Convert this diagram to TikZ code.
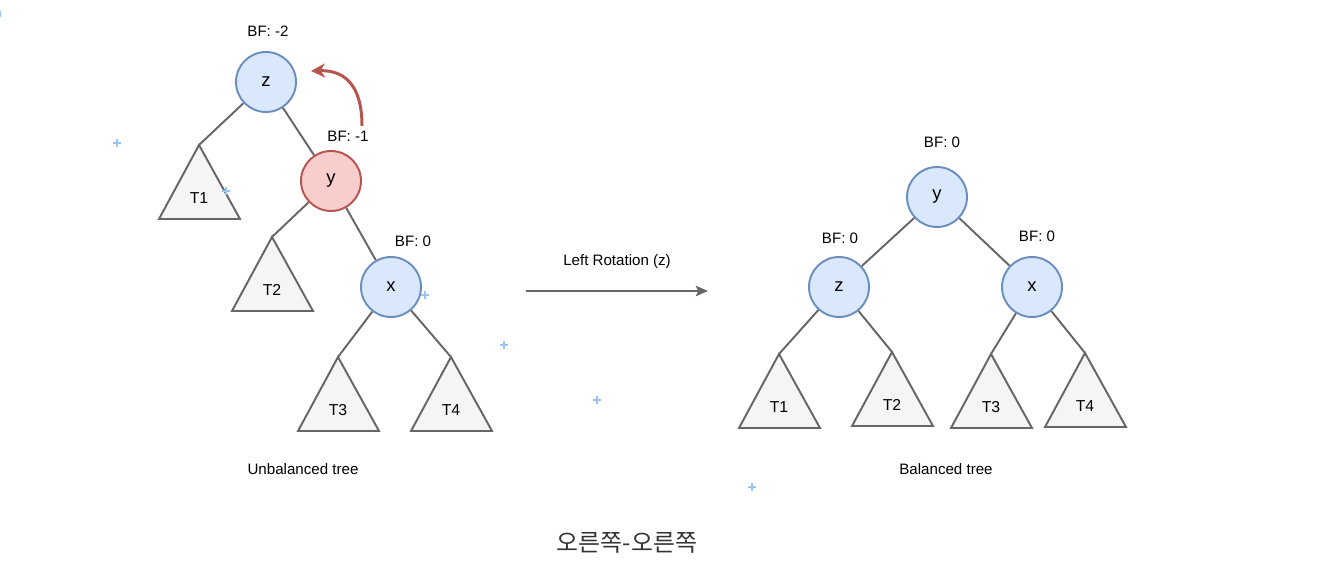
\documentclass[tikz,border=0pt]{standalone}
\usepackage{fontspec}
\setmainfont{Liberation Sans}
\newfontfamily\krfont{Noto Sans CJK KR}
\usetikzlibrary{arrows.meta}
\definecolor{nodeblue}{HTML}{DAE8FC}
\definecolor{lineblue}{HTML}{6C8EBF}
\definecolor{nodered}{HTML}{F8CECC}
\definecolor{linered}{HTML}{B85450}
\definecolor{treegray}{HTML}{F5F5F5}
\definecolor{linegray}{HTML}{666666}
\definecolor{markblue}{HTML}{99C2F5}
\begin{document}
\begin{tikzpicture}[x = 0.02cm, y = -0.02cm, font = \fontsize{8.6}{10}\selectfont,
	bnode/.style = {circle, draw = lineblue, fill = nodeblue, line width = 1.1pt, minimum size = 1.2cm, inner sep = 0, font = \fontsize{10.5}{12}\selectfont},
	rnode/.style = {bnode, draw = linered, fill = nodered},
	subtree/.style = {draw = linegray, fill = treegray, line width = 1.1pt},
	edge/.style = {draw = linegray, line width = 1.1pt},
	editmark/.style = {draw = markblue, line width = 0.6pt}]
	\useasboundingbox (0, 0) rectangle (1332, 584);
	% unbalanced tree
	\node[bnode] (lz) at (266, 82) {z};
	\node[rnode] (ly) at (331, 181) {y};
	\node[bnode] (lx) at (391, 287) {x};
	\node (bflz) at (268, 31) {BF: -2};
	\node (bfly) at (348, 136) {BF: -1};
	\node (bflx) at (413, 241) {BF: 0};
	% balanced tree
	\node[bnode] (ry) at (937, 197) {y};
	\node[bnode] (rz) at (839, 287) {z};
	\node[bnode] (rx) at (1032, 287) {x};
	\node (bfry) at (942, 142) {BF: 0};
	\node (bfrz) at (840, 238) {BF: 0};
	\node (bfrx) at (1037, 236) {BF: 0};
	% subtrees
	\foreach \name/\ax/\ay/\lab in {lT1/199/145/T1, lT2/272/237/T2, lT3/338/357/T3, lT4/451/357/T4,
		rT1/779/354/T1, rT2/892/352/T2, rT3/991/354/T3, rT4/1085/353/T4}{
		\coordinate (\name) at (\ax, \ay);
		\draw[subtree] (\name) -- ++(-40, 74) -- ++(81, 0) -- cycle;
		\node[font = \fontsize{9}{11}\selectfont] (\name lab) at (\ax, \ay + 53) {\lab};}
	\foreach \a/\b in {lz/lT1, lz/ly, ly/lT2, ly/lx, lx/lT3, lx/lT4,
		ry/rz, ry/rx, rz/rT1, rz/rT2, rx/rT3, rx/rT4}{
		\draw[edge] (\a) -- (\b);}
	% rotation
	\coordinate (rotstart) at (362, 126);
	\coordinate (rotend) at (311, 71);
	\draw[draw = linered, line width = 1.7pt, -{Stealth[length = 8pt, width = 8pt]}] (rotstart) .. controls (362, 82) and (342, 70) .. (rotend);
	\coordinate (arrstart) at (526, 291);
	\coordinate (arrend) at (708, 291);
	\draw[draw = linegray, line width = 1.1pt, -{Stealth[length = 7pt, width = 6pt, inset = 1.5pt]}] (arrstart) -- (arrend);
	\node (rotlab) at (617, 262) {Left Rotation (z)};
	\node (unbal) at (303, 469) {Unbalanced tree};
	\node (bal) at (946, 469) {Balanced tree};
	\node[text = black!80, font = \krfont\fontsize{13.6}{16}\selectfont] (title) at (627, 543) {오른쪽-오른쪽};
	% editor marks
	\foreach \mx/\my in {117/143, 226/191, 425/295, 504/345, 597/400, 752/487}{
		\draw[editmark] (\mx - 4, \my) -- (\mx + 4, \my) (\mx, \my - 4) -- (\mx, \my + 4);}
	\draw[editmark] (0, 11) -- (0, 17);
\end{tikzpicture}
\end{document}
